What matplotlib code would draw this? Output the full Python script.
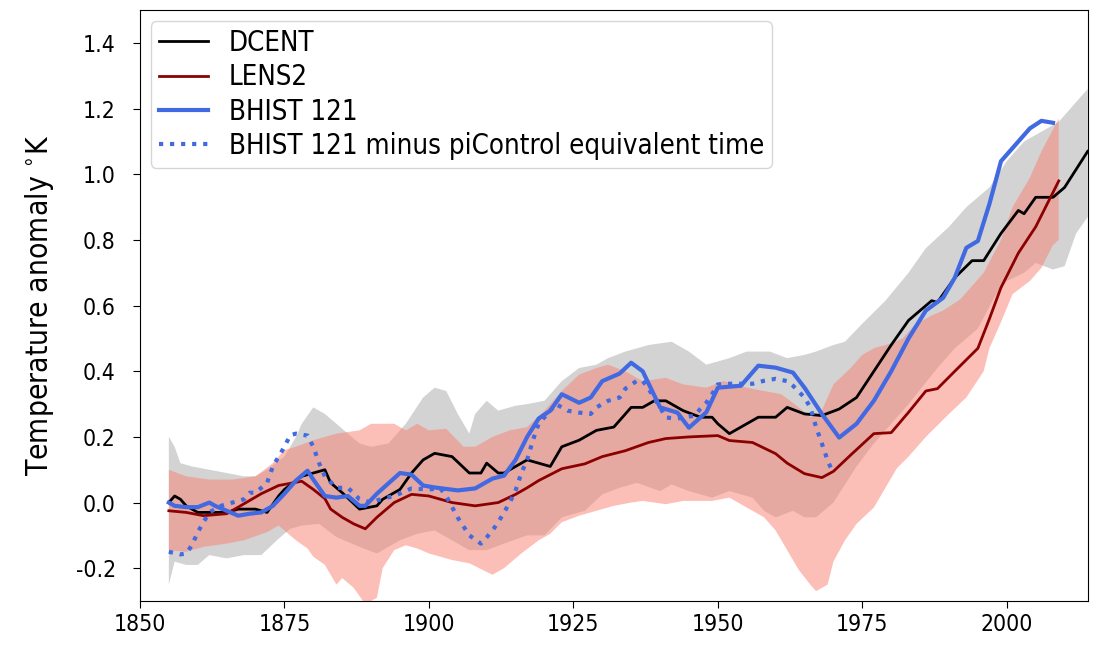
import numpy as np
import matplotlib
matplotlib.use("Agg")
import matplotlib.pyplot as plt

plt.rcParams['font.family'] = ['DejaVu Sans']
plt.rcParams['font.stretch'] = 'condensed'
plt.rcParams['axes.unicode_minus'] = False

# DCENT observational reconstruction (smoothed)
dcent_years = [1855, 1856, 1857, 1858, 1860, 1863, 1865, 1867, 1870, 1872, 1874, 1875,
               1878, 1880, 1882, 1883, 1885, 1888, 1891, 1892, 1895, 1897, 1899, 1901,
               1904, 1907, 1909, 1910, 1912, 1913, 1915, 1917, 1919, 1921, 1923, 1926,
               1929, 1932, 1935, 1937, 1939, 1941, 1944, 1947, 1949, 1950, 1952, 1955,
               1957, 1960, 1962, 1965, 1968, 1971, 1974, 1977, 1980, 1983, 1987, 1988,
               1991, 1994, 1996, 1999, 2002, 2003, 2005, 2008, 2010, 2014]
dcent = [0.00, 0.02, 0.01, -0.01, -0.03, -0.03, -0.03, -0.02, -0.02, -0.03, 0.02, 0.04,
         0.08, 0.09, 0.10, 0.06, 0.03, -0.02, -0.01, 0.01, 0.04, 0.09, 0.13, 0.15,
         0.14, 0.09, 0.09, 0.12, 0.09, 0.09, 0.11, 0.13, 0.12, 0.11, 0.17, 0.19,
         0.22, 0.23, 0.29, 0.29, 0.31, 0.31, 0.28, 0.26, 0.26, 0.24, 0.21, 0.24,
         0.26, 0.26, 0.29, 0.27, 0.265, 0.285, 0.32, 0.40, 0.48, 0.555, 0.615, 0.61,
         0.685, 0.737, 0.737, 0.82, 0.89, 0.88, 0.93, 0.93, 0.96, 1.07]

# DCENT ensemble range
dcent_hi_years = [1855, 1856, 1857, 1859, 1862, 1865, 1868, 1870, 1872, 1875, 1877, 1878,
                  1880, 1882, 1884, 1886, 1888, 1890, 1893, 1896, 1899, 1901, 1903, 1905,
                  1907, 1908, 1910, 1912, 1915, 1917, 1920, 1923, 1926, 1929, 1931, 1934,
                  1938, 1942, 1945, 1948, 1952, 1955, 1959, 1962, 1965, 1967, 1970, 1972,
                  1975, 1979, 1983, 1986, 1990, 1993, 1997, 2000, 2003, 2006, 2009, 2012,
                  2014]
dcent_hi = [0.20, 0.17, 0.12, 0.11, 0.10, 0.09, 0.08, 0.08, 0.10, 0.14, 0.20, 0.24,
            0.29, 0.27, 0.24, 0.21, 0.18, 0.17, 0.18, 0.24, 0.32, 0.35, 0.34, 0.27,
            0.21, 0.27, 0.31, 0.28, 0.295, 0.30, 0.31, 0.37, 0.41, 0.42, 0.44, 0.46,
            0.48, 0.49, 0.46, 0.42, 0.44, 0.46, 0.46, 0.44, 0.45, 0.46, 0.48, 0.49,
            0.545, 0.615, 0.70, 0.775, 0.84, 0.90, 0.96, 1.04, 1.10, 1.13, 1.16, 1.22,
            1.26]
dcent_lo_years = [1855, 1856, 1858, 1860, 1862, 1865, 1868, 1871, 1874, 1876, 1878, 1881,
                  1884, 1888, 1891, 1895, 1898, 1901, 1904, 1907, 1910, 1913, 1917, 1920,
                  1923, 1927, 1930, 1933, 1936, 1940, 1942, 1945, 1949, 1952, 1956, 1958,
                  1960, 1963, 1965, 1967, 1970, 1972, 1974, 1977, 1980, 1983, 1988, 1991,
                  1995, 1998, 2000, 2003, 2005, 2008, 2010, 2012, 2014]
dcent_lo = [-0.25, -0.18, -0.19, -0.19, -0.16, -0.17, -0.16, -0.16, -0.11, -0.08, -0.07, -0.065,
            -0.105, -0.135, -0.155, -0.115, -0.095, -0.085, -0.115, -0.145, -0.145, -0.125, -0.10, -0.10,
            -0.045, -0.025, 0.025, 0.045, 0.06, 0.035, 0.055, 0.035, 0.015, 0.035, 0.015, -0.025,
            -0.045, -0.025, -0.045, -0.045, 0.0, 0.055, 0.11, 0.18, 0.24, 0.30, 0.41, 0.47,
            0.53, 0.63, 0.675, 0.70, 0.73, 0.71, 0.72, 0.82, 0.87]

# LENS2 ensemble mean and range
lens_years = [1855, 1858, 1861, 1865, 1867, 1871, 1874, 1878, 1880, 1882, 1883, 1885,
              1887, 1889, 1891, 1894, 1897, 1900, 1904, 1908, 1912, 1915, 1917, 1919,
              1923, 1927, 1930, 1934, 1938, 1941, 1945, 1950, 1952, 1956, 1960, 1962,
              1965, 1968, 1970, 1973, 1977, 1980, 1983, 1986, 1988, 1991, 1995, 1997,
              1999, 2002, 2005, 2007, 2009]
lens = [-0.025, -0.03, -0.04, -0.034, -0.014, 0.027, 0.052, 0.065, 0.04, 0.012, -0.02, -0.045,
        -0.065, -0.08, -0.045, 0.0, 0.025, 0.02, 0.0, -0.01, 0.0, 0.025, 0.045, 0.067,
        0.103, 0.118, 0.14, 0.158, 0.183, 0.195, 0.20, 0.204, 0.189, 0.183, 0.149, 0.12,
        0.088, 0.076, 0.095, 0.145, 0.21, 0.213, 0.275, 0.34, 0.347, 0.40, 0.47, 0.56,
        0.655, 0.76, 0.84, 0.91, 0.98]
lens_hi_years = [1855, 1858, 1862, 1866, 1870, 1873, 1875, 1877, 1880, 1884, 1888, 1890,
                 1894, 1896, 1898, 1900, 1903, 1906, 1908, 1911, 1914, 1917, 1920, 1923,
                 1926, 1929, 1931, 1934, 1937, 1941, 1944, 1948, 1951, 1955, 1958, 1961,
                 1964, 1966, 1968, 1970, 1973, 1975, 1977, 1980, 1982, 1984, 1987, 1989,
                 1992, 1996, 1999, 2001, 2004, 2006, 2009]
lens_hi = [0.10, 0.08, 0.07, 0.07, 0.08, 0.12, 0.16, 0.17, 0.19, 0.21, 0.22, 0.24,
           0.24, 0.22, 0.24, 0.22, 0.225, 0.17, 0.17, 0.20, 0.22, 0.23, 0.28, 0.34,
           0.39, 0.41, 0.42, 0.40, 0.37, 0.38, 0.36, 0.35, 0.37, 0.35, 0.34, 0.33,
           0.29, 0.26, 0.28, 0.36, 0.41, 0.45, 0.47, 0.485, 0.50, 0.54, 0.57, 0.585,
           0.62, 0.70, 0.80, 0.90, 0.99, 1.07, 1.17]
lens_lo_years = [1855, 1858, 1861, 1865, 1868, 1872, 1874, 1877, 1879, 1880, 1882, 1884,
                 1885, 1887, 1889, 1891, 1892, 1894, 1896, 1898, 1900, 1904, 1907, 1911,
                 1913, 1916, 1919, 1921, 1923, 1926, 1929, 1932, 1935, 1937, 1941, 1944,
                 1949, 1952, 1955, 1958, 1960, 1962, 1964, 1966, 1967, 1969, 1970, 1972,
                 1974, 1977, 1979, 1981, 1983, 1986, 1990, 1993, 1996, 1997, 1999, 2001,
                 2004, 2006, 2008, 2009]
lens_lo = [-0.145, -0.15, -0.135, -0.125, -0.115, -0.09, -0.07, -0.115, -0.14, -0.165, -0.19, -0.25,
           -0.23, -0.26, -0.31, -0.29, -0.20, -0.145, -0.13, -0.14, -0.155, -0.175, -0.185, -0.22,
           -0.20, -0.155, -0.115, -0.095, -0.06, -0.04, -0.025, -0.01, 0.0, 0.005, -0.005, 0.005,
           0.005, 0.015, -0.015, -0.045, -0.085, -0.145, -0.205, -0.25, -0.27, -0.25, -0.18, -0.115,
           -0.065, -0.015, 0.045, 0.105, 0.14, 0.20, 0.27, 0.32, 0.40, 0.47, 0.55, 0.635,
           0.675, 0.715, 0.785, 0.80]

# BHIST member 121
bhist_years = [1855, 1856, 1858, 1860, 1862, 1863, 1865, 1867, 1869, 1871, 1873, 1875,
               1877, 1879, 1880, 1882, 1884, 1886, 1888, 1889, 1891, 1895, 1897, 1899,
               1901, 1905, 1908, 1911, 1913, 1915, 1917, 1919, 1921, 1923, 1926, 1928,
               1930, 1933, 1935, 1937, 1940, 1943, 1945, 1948, 1950, 1954, 1957, 1960,
               1963, 1965, 1968, 1971, 1974, 1977, 1980, 1983, 1986, 1989, 1991, 1993,
               1995, 1997, 1999, 2002, 2004, 2006, 2008]
bhist = [0.0, -0.01, -0.014, -0.014, 0.0, -0.01, -0.025, -0.04, -0.034, -0.03, -0.01, 0.027,
         0.067, 0.097, 0.07, 0.02, 0.015, 0.02, -0.01, -0.01, 0.027, 0.09, 0.085, 0.052,
         0.046, 0.037, 0.043, 0.073, 0.082, 0.13, 0.20, 0.256, 0.28, 0.33, 0.304, 0.32,
         0.37, 0.393, 0.426, 0.40, 0.29, 0.274, 0.228, 0.275, 0.35, 0.356, 0.417, 0.411,
         0.396, 0.35, 0.27, 0.198, 0.24, 0.31, 0.40, 0.50, 0.585, 0.624, 0.685, 0.776,
         0.797, 0.91, 1.04, 1.10, 1.14, 1.163, 1.157]

# BHIST 121 minus piControl at equivalent time
drift_years = [1855, 1857, 1858, 1859, 1860, 1861, 1862, 1864, 1866, 1868, 1869, 1870,
               1872, 1873, 1874, 1875, 1876, 1877, 1879, 1880, 1881, 1882, 1884, 1886,
               1888, 1890, 1892, 1894, 1897, 1900, 1902, 1903, 1905, 1907, 1909, 1910,
               1911, 1912, 1913, 1914, 1915, 1916, 1917, 1918, 1919, 1922, 1924, 1926,
               1928, 1929, 1931, 1933, 1934, 1936, 1937, 1938, 1940, 1941, 1943, 1944,
               1946, 1947, 1948, 1949, 1950, 1952, 1956, 1958, 1960, 1962, 1963, 1965,
               1966, 1967, 1968, 1969, 1970]
drift = [-0.15, -0.158, -0.155, -0.13, -0.09, -0.06, -0.03, -0.01, 0.0, 0.01, 0.03, 0.03,
         0.06, 0.11, 0.14, 0.17, 0.205, 0.21, 0.204, 0.17, 0.12, 0.08, 0.045, 0.045,
         0.01, 0.0, 0.012, 0.02, 0.043, 0.04, 0.043, 0.02, -0.046, -0.1, -0.125, -0.106,
         -0.085, -0.06, -0.03, 0.0, 0.037, 0.09, 0.13, 0.19, 0.24, 0.30, 0.28, 0.274,
         0.27, 0.29, 0.31, 0.32, 0.347, 0.371, 0.371, 0.347, 0.29, 0.259, 0.256, 0.259,
         0.265, 0.286, 0.304, 0.33, 0.36, 0.362, 0.362, 0.371, 0.377, 0.37, 0.356, 0.32,
         0.29, 0.23, 0.18, 0.128, 0.088]


def band(ax, hi_x, hi_y, lo_x, lo_y, **kw):
    xs = np.concatenate([hi_x, lo_x[::-1]])
    ys = np.concatenate([hi_y, lo_y[::-1]])
    ax.fill(xs, ys, linewidth=0, **kw)


fig = plt.figure(figsize=(11.02, 6.55), dpi=100)
ax = fig.add_axes([0.127, 0.0824, 0.860, 0.902])

band(ax, dcent_hi_years, dcent_hi, dcent_lo_years, dcent_lo, color='lightgray')
band(ax, lens_hi_years, lens_hi, lens_lo_years, lens_lo, color='salmon', alpha=0.5)

ax.plot(dcent_years, dcent, color='black', lw=2, label='DCENT')
ax.plot(lens_years, lens, color='darkred', lw=2, label='LENS2')
ax.plot(bhist_years, bhist, color='royalblue', lw=3, label='BHIST 121')
ax.plot(drift_years, drift, color='royalblue', lw=3, ls=':',
        label='BHIST 121 minus piControl equivalent time')

ax.set_xlim(1850, 2014)
ax.set_ylim(-0.3, 1.5)
ax.set_xticks(np.arange(1850, 2001, 25))
ax.set_yticks(np.round(np.arange(-0.2, 1.41, 0.2), 1))
ax.tick_params(labelsize=16.5, length=5)
ax.tick_params(axis='y', pad=12.5)
ax.set_ylabel(r'Temperature anomaly $^{\circ}$K', fontsize=21.5)
ax.yaxis.set_label_coords(-0.089, 0.5)

ax.legend(loc='upper left', fontsize=19.8, labelspacing=0.23, borderpad=0.28,
          borderaxespad=0.4, handlelength=1.8, handletextpad=0.75)

fig.savefig('out.png', dpi=100)
